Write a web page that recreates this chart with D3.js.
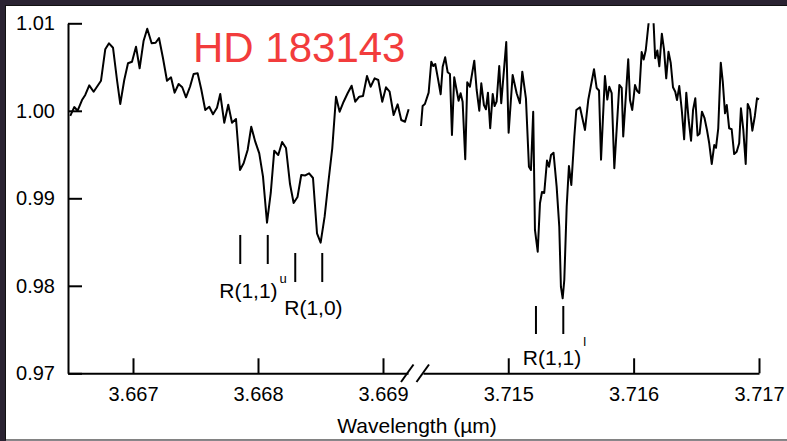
<!DOCTYPE html>
<html>
<head>
<meta charset="utf-8">
<script src="https://cdn.jsdelivr.net/npm/d3@7"></script>
<style>
  body { margin: 0; background: #2a2332; }
  svg { display: block; font-family: "Liberation Sans", Arial, sans-serif; }
</style>
</head>
<body>
<svg width="787" height="441"></svg>
<script>
// spectrum, short wavelength piece (um, normalised flux)
const leftWave = [
  3.666498, 3.666530, 3.666557, 3.666592, 3.666618, 3.666650, 3.666685, 3.666744,
  3.666778, 3.666808, 3.666840, 3.666872, 3.666898, 3.666930, 3.666960, 3.666992,
  3.667024, 3.667053, 3.667085, 3.667114, 3.667149, 3.667181, 3.667208, 3.667240,
  3.667272, 3.667304, 3.667333, 3.667365, 3.667394, 3.667424, 3.667456, 3.667485,
  3.667517, 3.667546, 3.667578, 3.667610, 3.667640, 3.667672, 3.667698, 3.667730,
  3.667762, 3.667792, 3.667824, 3.667856, 3.667885, 3.667917, 3.667946, 3.667978,
  3.668010, 3.668040, 3.668072, 3.668102, 3.668130, 3.668162, 3.668193, 3.668224,
  3.668256, 3.668285, 3.668316, 3.668346, 3.668378, 3.668409, 3.668440, 3.668472,
  3.668501, 3.668533, 3.668565, 3.668594, 3.668624, 3.668653, 3.668685, 3.668717,
  3.668749, 3.668778, 3.668810, 3.668840, 3.668872, 3.668901, 3.668933, 3.668962,
  3.668994, 3.669024, 3.669053, 3.669085, 3.669117, 3.669146, 3.669176, 3.669205
];
const leftFlux = [
  0.99941, 1.00043, 1.00001, 1.00123, 1.00181, 1.00291, 1.00218, 1.00344,
  1.00703, 1.00771, 1.00721, 1.00352, 1.00078, 1.00352, 1.00543, 1.00561,
  1.00733, 1.00486, 1.00801, 1.00938, 1.00771, 1.00778, 1.00832, 1.00600,
  1.00344, 1.00383, 1.00207, 1.00306, 1.00269, 1.00154, 1.00275, 1.00421,
  1.00429, 1.00246, 1.00009, 1.00047, 0.99960, 1.00035, 1.00192, 0.99864,
  1.00070, 0.99864, 0.99906, 0.99323, 0.99400, 0.99552, 0.99818, 0.99647,
  0.99514, 0.99247, 0.98721, 0.99061, 0.99544, 0.99495, 0.99643, 0.99575,
  0.99163, 0.98946, 0.99015, 0.99266, 0.99261, 0.99286, 0.99232, 0.98600,
  0.98493, 0.98790, 0.99209, 0.99571, 1.00161, 0.99990, 1.00104, 1.00200,
  1.00287, 1.00104, 1.00161, 1.00169, 1.00398, 1.00275, 1.00371, 1.00352,
  1.00104, 1.00269, 1.00218, 0.99952, 1.00074, 0.99895, 0.99875, 1.00017
];

// spectrum, long wavelength piece
const rightWave = [
  3.714304, 3.714317, 3.714335, 3.714365, 3.714386, 3.714402, 3.714418, 3.714439,
  3.714461, 3.714477, 3.714497, 3.714517, 3.714535, 3.714551, 3.714569, 3.714588,
  3.714604, 3.714620, 3.714636, 3.714657, 3.714673, 3.714694, 3.714729, 3.714748,
  3.714769, 3.714785, 3.714806, 3.714822, 3.714838, 3.714856, 3.714876, 3.714891,
  3.714907, 3.714928, 3.714944, 3.714984, 3.715003, 3.715035, 3.715067, 3.715093,
  3.715112, 3.715141, 3.715165, 3.715181, 3.715199, 3.715213, 3.715235, 3.715253,
  3.715269, 3.715287, 3.715309, 3.715325, 3.715341, 3.715361, 3.715386, 3.715407,
  3.715420, 3.715434, 3.715447, 3.715466, 3.715484, 3.715503, 3.715527, 3.715543,
  3.715572, 3.715612, 3.715638, 3.715684, 3.715705, 3.715724, 3.715740, 3.715771,
  3.715790, 3.715806, 3.715825, 3.715846, 3.715886, 3.715905, 3.715917, 3.715957,
  3.715971, 3.715989, 3.716011, 3.716029, 3.716045, 3.716064, 3.716080, 3.716097,
  3.716127, 3.716156, 3.716172, 3.716189, 3.716205, 3.716225, 3.716242, 3.716260,
  3.716278, 3.716296, 3.716314, 3.716332, 3.716346, 3.716364, 3.716384, 3.716403,
  3.716420, 3.716439, 3.716458, 3.716474, 3.716492, 3.716510, 3.716526, 3.716545,
  3.716565, 3.716585, 3.716603, 3.716623, 3.716643, 3.716657, 3.716675, 3.716695,
  3.716711, 3.716729, 3.716743, 3.716762, 3.716782, 3.716802, 3.716822, 3.716842,
  3.716856, 3.716875, 3.716894, 3.716910, 3.716928, 3.716947, 3.716967, 3.716984,
  3.717000
];
const rightFlux = [
  0.99826, 1.00055, 1.00078, 1.00207, 1.00561, 1.00512, 1.00535, 1.00371,
  1.00189, 1.00504, 1.00611, 1.00440, 1.00421, 0.99723, 1.00383, 1.00238,
  1.00115, 1.00200, 1.00104, 0.99446, 1.00326, 1.00275, 1.00573, 1.00238,
  1.00001, 1.00314, 1.00066, 1.00017, 1.00207, 0.99800, 1.00192, 1.00055,
  1.00104, 1.00512, 1.00086, 1.00786, 0.99750, 1.00409, 1.00200, 1.00086,
  1.00447, 1.00143, 0.99361, 0.99323, 0.99990, 0.98638, 0.98390, 0.98943,
  0.99072, 0.99061, 0.99432, 0.99361, 0.99495, 0.99521, 0.99133, 0.98675,
  0.97990, 0.97857, 0.98066, 0.98904, 0.99369, 0.99152, 0.99704, 1.00009,
  1.00040, 0.99781, 1.00123, 1.00475, 1.00261, 1.00232, 0.99442, 1.00398,
  1.00128, 1.00275, 1.00203, 0.99343, 1.00295, 1.00261, 0.99706, 1.00590,
  1.00123, 1.00009, 1.00295, 1.00226, 1.00203, 1.00672, 1.00586, 1.00695,
  1.01106, 1.01106, 1.00600, 1.00690, 1.00509, 1.00881, 1.00706, 1.00371,
  1.00675, 1.00546, 1.00269, 1.00218, 1.00123, 1.00283, 1.00009, 0.99674,
  1.00207, 0.99895, 0.99658, 1.00009, 1.00143, 0.99718, 0.99737, 0.99990,
  0.99920, 0.99781, 0.99629, 0.99392, 0.99609, 0.99577, 0.99800, 1.00550,
  1.00333, 0.99971, 1.00066, 0.99800, 0.99789, 0.99506, 0.99533, 0.99629,
  1.00029, 0.99781, 0.99392, 1.00078, 1.00017, 0.99773, 0.99941, 1.00143,
  1.00131
];

const yTicks = [0.97, 0.98, 0.99, 1.00, 1.01];
const xTicksL = [3.667, 3.668, 3.669];
const xTicksR = [3.715, 3.716, 3.717];

// line identifications
const markWaveL = [3.667858, 3.668078, 3.668298, 3.668514];
const markTopL = [0.98581, 0.98581, 0.98375, 0.98375];
const markBotL = [0.98249, 0.98249, 0.98043, 0.98043];
const markWaveR = [3.715221, 3.715439];
const markTopR = [0.97769, 0.97769];
const markBotR = [0.97449, 0.97449];

const svg = d3.select("svg");
const W = +svg.attr("width"), H = +svg.attr("height");

// photo-like frame
svg.append("rect").attr("width", W).attr("height", H).attr("fill", "#2a2332");
svg.append("rect")
   .attr("x", 5.5).attr("y", 5.5).attr("width", W).attr("height", 434)
   .attr("fill", "#fff").attr("stroke", "#111").attr("stroke-width", 1);
svg.append("line")
   .attr("x1", 6).attr("x2", W).attr("y1", 440).attr("y2", 440)
   .attr("stroke", "#a9a9a9").attr("stroke-width", 1.5);

const y = d3.scaleLinear().domain([0.97, 1.01]).range([373.3, 23.3]);
const xL = d3.scaleLinear().domain([3.66648, 3.66920]).range([68, 408]);
const xR = d3.scaleLinear().domain([3.71432, 3.717]).range([423, 759]);

const font = 20;

// y axis, ticks pointing into the plot
const gy = svg.append("g")
   .attr("transform", "translate(68,0)")
   .call(d3.axisLeft(y).tickValues(yTicks).tickFormat(d3.format(".2f"))
      .tickSizeInner(-14).tickSizeOuter(0).tickPadding(13));

// broken x axis
const gxL = svg.append("g")
   .attr("transform", "translate(0,373.3)")
   .call(d3.axisBottom(xL).tickValues(xTicksL).tickFormat(d3.format(".3f"))
      .tickSizeInner(-15).tickSizeOuter(0).tickPadding(14));
const gxR = svg.append("g")
   .attr("transform", "translate(0,373.3)")
   .call(d3.axisBottom(xR).tickValues(xTicksR).tickFormat(d3.format(".3f"))
      .tickSizeInner(-15).tickSizeOuter(0).tickPadding(14));

[gy, gxL, gxR].forEach(g => {
  g.selectAll("path, line").attr("stroke", "#000").attr("stroke-width", 2);
  g.selectAll("text").attr("fill", "#000").attr("font-size", font)
   .attr("font-family", "Liberation Sans, Arial, sans-serif");
});

// break marks
svg.append("g").selectAll("line")
   .data([401, 416.5])
   .join("line")
   .attr("x1", d => d).attr("y1", 382)
   .attr("x2", d => d + 12.5).attr("y2", 364.5)
   .attr("stroke", "#000").attr("stroke-width", 2);

svg.append("clipPath").attr("id", "plot")
   .append("rect").attr("x", 60).attr("y", 23.3).attr("width", 720).attr("height", 400);

const lineL = d3.line().x(d => xL(d.w)).y(d => y(d.f));
const lineR = d3.line().x(d => xR(d.w)).y(d => y(d.f));

const left = leftWave.map((w, i) => ({w: w, f: leftFlux[i]}));
const right = rightWave.map((w, i) => ({w: w, f: rightFlux[i]}));

const spec = svg.append("g").attr("clip-path", "url(#plot)");
spec.append("path")
   .datum(left)
   .attr("fill", "none").attr("stroke", "#000").attr("stroke-width", 2)
   .attr("stroke-linejoin", "round")
   .attr("d", lineL);
spec.append("path")
   .datum(right)
   .attr("fill", "none").attr("stroke", "#000").attr("stroke-width", 2)
   .attr("stroke-linejoin", "round")
   .attr("d", lineR);

// identification ticks
svg.append("g").selectAll("line")
   .data(markWaveL)
   .join("line")
   .attr("x1", d => xL(d)).attr("x2", d => xL(d))
   .attr("y1", (d, i) => y(markTopL[i])).attr("y2", (d, i) => y(markBotL[i]))
   .attr("stroke", "#000").attr("stroke-width", 2);
svg.append("g").selectAll("line")
   .data(markWaveR)
   .join("line")
   .attr("x1", d => xR(d)).attr("x2", d => xR(d))
   .attr("y1", (d, i) => y(markTopR[i])).attr("y2", (d, i) => y(markBotR[i]))
   .attr("stroke", "#000").attr("stroke-width", 2);

const lab1 = svg.append("text")
   .attr("x", xL(3.66769)).attr("y", y(0.97861))
   .attr("fill", "#000").attr("font-size", 21).text("R(1,1)");
lab1.append("tspan").attr("fill", "#000").attr("font-size", 13)
   .attr("dx", 2).attr("dy", -15).text("u");

svg.append("text")
   .attr("x", xL(3.66821)).attr("y", y(0.97667))
   .attr("fill", "#000").attr("font-size", 21).text("R(1,0)");

const lab3 = svg.append("text")
   .attr("x", xR(3.715116)).attr("y", y(0.97095))
   .attr("fill", "#000").attr("font-size", 21).text("R(1,1)");
lab3.append("tspan").attr("fill", "#000").attr("font-size", 13)
   .attr("dx", 2).attr("dy", -18.5).text("l");

// axis title
svg.append("text")
   .attr("x", 417).attr("y", 433)
   .attr("text-anchor", "middle")
   .attr("fill", "#000")
   .attr("font-size", 21)
   .text("Wavelength (µm)");

// star name
svg.append("text")
   .attr("x", 193).attr("y", 62)
   .attr("fill", "#f23c3c")
   .attr("font-size", 42)
   .text("HD 183143");
</script>
</body>
</html>
